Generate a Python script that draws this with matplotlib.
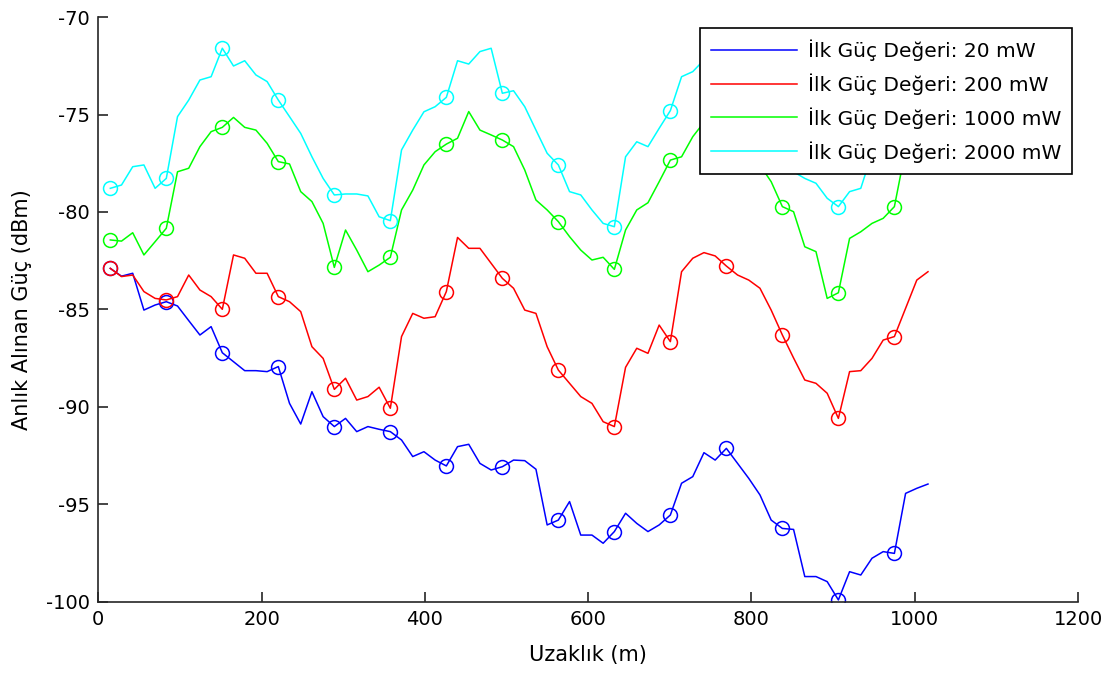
import numpy as np
import matplotlib
matplotlib.use("Agg")
import matplotlib.pyplot as plt

plt.rcParams['font.family'] = ['DejaVu Sans']
plt.rcParams['axes.unicode_minus'] = False

# mesafe ekseni: 74 örnek, her 5 örnekte bir işaret
uzaklik = 14.7 + 13.72 * np.arange(74)

guc_20 = [-82.9, -83.3, -83.15, -85.04, -84.78, -84.61, -84.83, -85.58, -86.32, -85.89,
          -87.23, -87.69, -88.15, -88.15, -88.2, -87.94, -89.83, -90.89, -89.23, -90.51,
          -91.02, -90.6, -91.28, -91.02, -91.16, -91.28, -91.71, -92.56, -92.31, -92.74,
          -93.04, -92.05, -91.93, -92.91, -93.25, -93.08, -92.74, -92.77, -93.21, -96.07,
          -95.82, -94.87, -96.59, -96.59, -97.01, -96.41, -95.47, -95.99, -96.41, -96.07,
          -95.56, -93.93, -93.59, -92.36, -92.74, -92.14, -92.91, -93.68, -94.53, -95.82,
          -96.25, -96.3, -98.72, -98.72, -98.98, -99.92, -98.47, -98.64, -97.78, -97.44,
          -97.53, -94.45, -94.19, -93.97]

guc_200 = [-82.9, -83.32, -83.24, -84.09, -84.44, -84.52, -84.35, -83.24, -84.01, -84.35,
           -85.0, -82.21, -82.38, -83.15, -83.15, -84.35, -84.61, -85.12, -86.92, -87.52,
           -89.11, -88.54, -89.66, -89.48, -89.0, -90.08, -86.4, -85.21, -85.46, -85.38,
           -84.09, -81.31, -81.87, -81.87, -82.64, -83.41, -83.92, -85.04, -85.21, -86.92,
           -88.12, -88.8, -89.48, -89.83, -90.77, -91.02, -87.98, -87.0, -87.26, -85.81,
           -86.66, -83.07, -82.38, -82.09, -82.26, -82.78, -83.24, -83.5, -83.92, -85.04,
           -86.32, -87.5, -88.63, -88.8, -89.31, -90.6, -88.2, -88.15, -87.52, -86.58,
           -86.4, -84.95, -83.5, -83.07]

guc_1000 = [-81.44, -81.5, -81.07, -82.21, -81.53, -80.84, -77.94, -77.76, -76.65, -75.88,
            -75.66, -75.15, -75.66, -75.8, -76.48, -77.42, -77.54, -78.96, -79.47, -80.59,
            -82.85, -80.93, -81.96, -83.07, -82.73, -82.33, -79.9, -78.88, -77.59, -76.91,
            -76.52, -76.22, -74.85, -75.8, -76.05, -76.31, -76.65, -77.85, -79.39, -79.9,
            -80.5, -81.27, -81.96, -82.47, -82.33, -82.95, -80.93, -79.9, -79.53, -78.45,
            -77.34, -77.17, -76.14, -75.4, -75.0, -75.5, -76.0, -76.8, -77.6, -78.45,
            -79.73, -79.99, -81.79, -82.04, -84.44, -84.15, -81.36, -81.02, -80.59, -80.33,
            -79.73, -76.8, -75.8, -75.5]

guc_2000 = [-78.79, -78.62, -77.68, -77.59, -78.79, -78.28, -75.11, -74.26, -73.23, -73.06,
            -71.6, -72.51, -72.24, -72.97, -73.31, -74.26, -75.11, -75.97, -77.17, -78.28,
            -79.13, -79.08, -79.08, -79.18, -80.25, -80.45, -76.82, -75.8, -74.86, -74.6,
            -74.12, -72.24, -72.41, -71.77, -71.6, -73.91, -73.78, -74.6, -75.8, -76.99,
            -77.59, -78.96, -79.13, -79.9, -80.59, -80.76, -77.17, -76.4, -76.65, -75.71,
            -74.8, -73.06, -72.8, -72.2, -72.0, -72.4, -73.0, -73.8, -74.8, -76.0,
            -77.3, -77.94, -78.28, -78.53, -79.3, -79.73, -78.96, -78.79, -77.0, -75.0,
            -73.5, -73.0, -72.8, -72.5]

seriler = [guc_20, guc_200, guc_1000, guc_2000]
etiketler = ['İlk Güç Değeri: 20 mW', 'İlk Güç Değeri: 200 mW',
             'İlk Güç Değeri: 1000 mW', 'İlk Güç Değeri: 2000 mW']
renkler = ['#0000ff', '#ff0000', '#00ff00', '#00ffff']

fig = plt.figure(figsize=(11.11, 6.73), dpi=100)
ax = fig.add_axes([98.3 / 1111, 1 - 601.5 / 673, (1078 - 98.3) / 1111, (601.5 - 17.1) / 673])

for y, lab, c in zip(seriler, etiketler, renkler):
    ax.plot(uzaklik, y, color=c, lw=1.1, label=lab)
    ax.plot(uzaklik, y, color=c, lw=0, marker='o', markevery=5, markersize=10,
            markerfacecolor='none', markeredgecolor=c, markeredgewidth=1.1)

ax.set_xlim(0, 1200)
ax.set_ylim(-100, -70)
ax.set_xticks(np.arange(0, 1201, 200))
ax.set_yticks(np.arange(-100, -69, 5))
ax.spines['top'].set_visible(False)
ax.spines['right'].set_visible(False)
for s in ['left', 'bottom']:
    ax.spines[s].set_linewidth(1.2)
    ax.spines[s].set_color('#262626')
ax.tick_params(direction='in', length=7, width=1.2, color='#262626', labelsize=14, pad=6)
ax.set_xlabel('Uzaklık (m)', fontsize=15, labelpad=12)
ax.set_ylabel('Anlık Alınan Güç (dBm)', fontsize=15, labelpad=10)

leg = ax.legend(loc='upper right', bbox_to_anchor=(1072 / 1111, 1 - 28 / 673),
                bbox_transform=fig.transFigure, fontsize=14.5, frameon=True, fancybox=False,
                framealpha=1, edgecolor='black', borderaxespad=0, handlelength=4.3,
                labelspacing=0.62, borderpad=0.55, handletextpad=0.5)
leg.get_frame().set_linewidth(1.2)

fig.savefig('out.png', dpi=100, facecolor='white')
